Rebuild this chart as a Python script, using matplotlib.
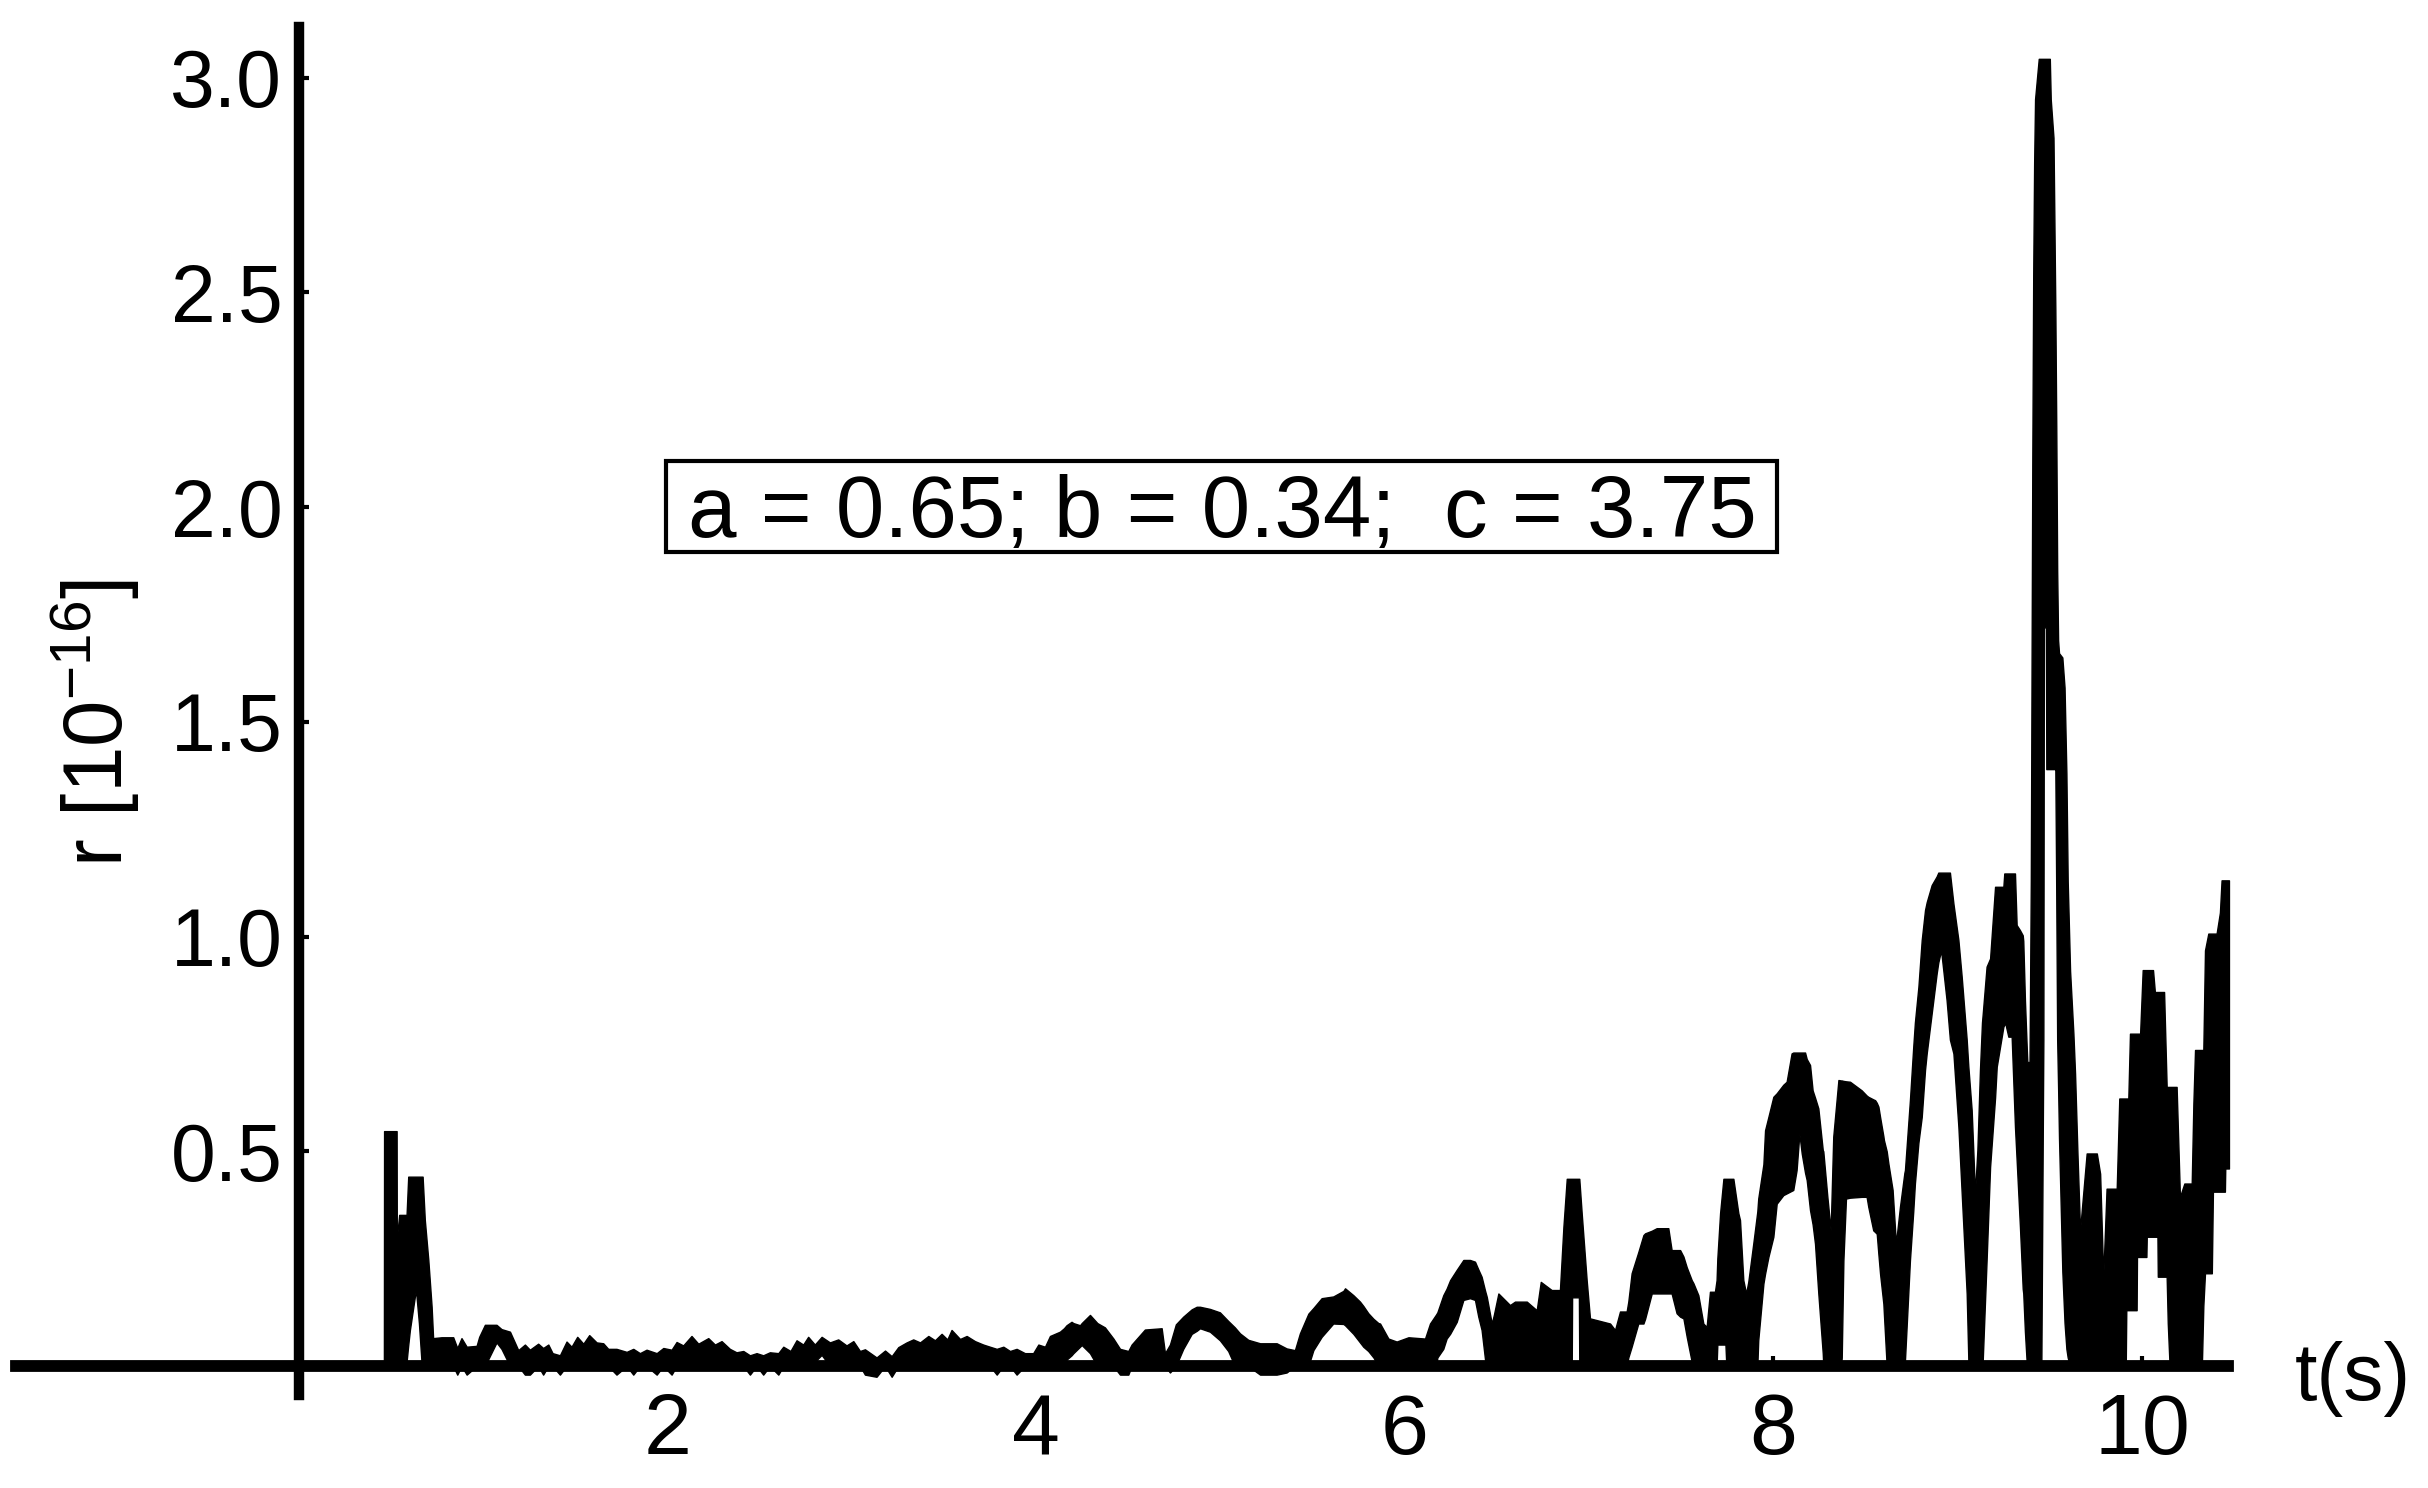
import matplotlib
matplotlib.use('Agg')
import matplotlib.pyplot as plt
from matplotlib.patches import Rectangle
import numpy as np

plt.rcParams['font.family'] = ['Liberation Sans', 'DejaVu Sans']
plt.rcParams['mathtext.fontset'] = 'custom'
plt.rcParams['mathtext.rm'] = 'Liberation Sans'
plt.rcParams['mathtext.default'] = 'regular'

# 曲线被读成一条黑色带：每个时刻的上沿 up 和下沿 lo (单位 1e-16)
# 起始尖峰
t_spike = [0.461, 0.462, 0.530, 0.531, 0.544, 0.584, 0.593, 0.602, 0.629, 0.635,
           0.651, 0.665, 0.671, 0.683, 0.702, 0.720, 0.728]
up_spike = [0.000, 0.547, 0.547, 0.297, 0.352, 0.352, 0.441, 0.441, 0.441, 0.441,
            0.441, 0.441, 0.441, 0.340, 0.247, 0.138, 0.065]
lo_spike = [0, 0, 0, 0, 0, 0.010, 0.049, 0.084, 0.162, 0.177,
            0.100, 0.010, 0, 0, 0, 0, 0]

# 平静段 (小幅噪声)
t_quiet = [0.774, 0.837, 0.859, 0.882, 0.910, 0.964, 0.978, 1.009, 1.072, 1.099,
           1.145, 1.166, 1.190, 1.226, 1.253, 1.298, 1.325, 1.353, 1.376, 1.416,
           1.452, 1.479, 1.510, 1.543, 1.575, 1.615, 1.651, 1.678, 1.723, 1.778,
           1.814, 1.850, 1.886, 1.941, 1.977, 2.022, 2.049, 2.085, 2.130, 2.167,
           2.221, 2.257, 2.293, 2.338, 2.374, 2.411, 2.447, 2.483, 2.519, 2.555,
           2.601, 2.628, 2.667, 2.700, 2.736, 2.763, 2.799, 2.836, 2.881, 2.926,
           2.971, 3.008, 3.044, 3.071, 3.134, 3.180, 3.216, 3.252, 3.297, 3.333,
           3.370, 3.415, 3.451, 3.487, 3.518, 3.541, 3.587, 3.623, 3.668, 3.713,
           3.749, 3.786, 3.822, 3.858, 3.894, 3.939, 3.984]
up_quiet = [0.067, 0.067, 0.042, 0.065, 0.045, 0.047, 0.068, 0.096, 0.096, 0.086,
            0.080, 0.060, 0.037, 0.050, 0.038, 0.052, 0.042, 0.050, 0.030, 0.025,
            0.057, 0.045, 0.068, 0.052, 0.072, 0.055, 0.053, 0.040, 0.040, 0.033,
            0.040, 0.030, 0.038, 0.030, 0.042, 0.038, 0.056, 0.048, 0.070, 0.052,
            0.065, 0.050, 0.058, 0.040, 0.032, 0.035, 0.025, 0.030, 0.025, 0.032,
            0.030, 0.045, 0.035, 0.060, 0.050, 0.068, 0.050, 0.068, 0.055, 0.062,
            0.048, 0.058, 0.035, 0.039, 0.020, 0.036, 0.023, 0.044, 0.055, 0.062,
            0.055, 0.070, 0.060, 0.075, 0.062, 0.084, 0.063, 0.070, 0.058, 0.050,
            0.045, 0.040, 0.045, 0.035, 0.040, 0.030, 0.030]
lo_quiet = [0, 0, -0.02, 0, -0.02, 0, 0, 0, 0.055, 0.040,
            0, 0, 0, -0.02, -0.02, 0, -0.02, 0, 0, -0.02,
            0, 0, 0, 0, 0, 0, 0, 0, -0.02, 0,
            -0.02, 0, 0, -0.02, 0, -0.02, 0, 0, 0, 0,
            0, 0, 0, 0, 0, 0, -0.02, 0, -0.02, 0,
            -0.02, 0, 0, 0, 0, 0, 0.010, 0.026, 0, 0,
            0, 0, 0, -0.02, -0.025, 0, -0.025, 0, 0, 0,
            0, 0, 0, 0, 0, 0, 0, 0, 0, 0,
            0, -0.02, 0, 0, -0.02, 0, 0]

# 逐渐增大的拱形段
t_arcs = [4.012, 4.048, 4.075, 4.129, 4.151, 4.165, 4.192, 4.202, 4.238, 4.247,
          4.292, 4.332, 4.373, 4.419, 4.455, 4.500, 4.518, 4.590, 4.681, 4.699,
          4.726, 4.758, 4.798, 4.844, 4.871, 4.889, 4.943, 4.997, 5.042, 5.078,
          5.106, 5.151, 5.215, 5.305, 5.359, 5.404, 5.431, 5.477, 5.504, 5.549,
          5.612, 5.667, 5.676, 5.721, 5.757, 5.775, 5.802, 5.830, 5.857, 5.866,
          5.911, 5.956, 6.020, 6.110, 6.137, 6.170, 6.177, 6.209, 6.227, 6.246,
          6.282, 6.318, 6.354, 6.381, 6.399, 6.417, 6.436, 6.445, 6.472, 6.484,
          6.508, 6.571, 6.598, 6.662, 6.716, 6.738, 6.797, 6.842, 6.861, 6.879,
          6.906, 6.908, 6.945, 6.947, 6.960, 6.987, 7.005, 7.114, 7.141, 7.168,
          7.204, 7.213, 7.231, 7.267, 7.295, 7.304, 7.340, 7.367, 7.430, 7.448,
          7.475, 7.494, 7.512, 7.530, 7.557, 7.566, 7.593, 7.620, 7.638, 7.656,
          7.683, 7.692, 7.696, 7.711, 7.729, 7.740, 7.745, 7.783, 7.810]
up_arcs = [0.050, 0.045, 0.070, 0.080, 0.088, 0.095, 0.103, 0.100, 0.095, 0.100,
           0.119, 0.100, 0.090, 0.064, 0.040, 0.035, 0.050, 0.085, 0.088, 0.030,
           0.050, 0.097, 0.115, 0.132, 0.138, 0.138, 0.133, 0.125, 0.105, 0.090,
           0.076, 0.061, 0.053, 0.053, 0.041, 0.037, 0.076, 0.122, 0.135, 0.158,
           0.162, 0.175, 0.181, 0.165, 0.150, 0.140, 0.123, 0.110, 0.100, 0.099,
           0.064, 0.057, 0.067, 0.064, 0.099, 0.120, 0.125, 0.165, 0.180, 0.200,
           0.224, 0.247, 0.247, 0.243, 0.225, 0.208, 0.175, 0.161, 0.099, 0.120,
           0.169, 0.142, 0.150, 0.150, 0.130, 0.196, 0.177, 0.177, 0.325, 0.436,
           0.436, 0.436, 0.436, 0.436, 0.356, 0.200, 0.111, 0.099, 0.084, 0.127,
           0.127, 0.150, 0.216, 0.265, 0.305, 0.309, 0.315, 0.321, 0.321, 0.270,
           0.270, 0.270, 0.255, 0.230, 0.200, 0.193, 0.165, 0.099, 0.091, 0.173,
           0.173, 0.200, 0.250, 0.356, 0.436, 0.436, 0.436, 0.436, 0.356]
lo_arcs = [0, 0, 0, 0, 0, 0.015, 0.025, 0.030, 0.045, 0.049,
           0.030, 0, 0, 0, -0.02, -0.02, 0, 0, 0, 0,
           -0.015, 0, 0.040, 0.075, 0.082, 0.088, 0.080, 0.060, 0.035, 0,
           0, 0, -0.02, -0.02, -0.015, 0, 0, 0, 0.037, 0.068,
           0.099, 0.098, 0.095, 0.075, 0.055, 0.045, 0.035, 0.020, 0, 0,
           0, 0, 0, 0, 0, 0, 0.020, 0.040, 0.064, 0.075,
           0.103, 0.154, 0.158, 0.154, 0.115, 0.084, 0.014, 0, 0, 0,
           0, 0, 0, 0, 0, 0, 0, 0, 0, 0,
           0, 0.160, 0.160, 0, 0, 0, 0, 0, 0, 0,
           0, 0.020, 0.045, 0.099, 0.099, 0.110, 0.169, 0.169, 0.169, 0.169,
           0.123, 0.115, 0.111, 0.068, 0.010, 0, 0, 0, 0, 0,
           0, 0, 0.050, 0.050, 0.050, 0.050, 0, 0, 0]

# 末段剧烈振荡与 9.5 s 处的主峰
t_burst = [7.819, 7.837, 7.852, 7.864, 7.891, 7.913, 7.918, 7.946, 7.955, 7.973,
           8.000, 8.018, 8.054, 8.072, 8.099, 8.108, 8.126, 8.141, 8.154, 8.172,
           8.181, 8.199, 8.213, 8.226, 8.244, 8.268, 8.271, 8.293, 8.311, 8.325,
           8.353, 8.367, 8.371, 8.380, 8.394, 8.416, 8.479, 8.506, 8.515, 8.542,
           8.552, 8.561, 8.570, 8.579, 8.597, 8.600, 8.615, 8.624, 8.647, 8.665,
           8.687, 8.711, 8.714, 8.741, 8.759, 8.768, 8.787, 8.805, 8.823, 8.832,
           8.859, 8.886, 8.895, 8.910, 8.922, 8.940, 8.958, 8.977, 9.004, 9.022,
           9.049, 9.058, 9.076, 9.094, 9.107, 9.121, 9.132, 9.136, 9.157, 9.176,
           9.203, 9.212, 9.248, 9.253, 9.257, 9.275, 9.293, 9.311, 9.320, 9.338,
           9.353, 9.356, 9.365, 9.374, 9.378, 9.390, 9.397, 9.405, 9.410, 9.415,
           9.420, 9.440, 9.454, 9.465, 9.468, 9.479, 9.481, 9.500, 9.505, 9.520,
           9.525, 9.530, 9.535, 9.540, 9.545, 9.550, 9.568, 9.580, 9.590, 9.597,
           9.610, 9.628, 9.637, 9.650, 9.664, 9.700, 9.755, 9.773, 9.790, 9.808,
           9.863, 9.877, 9.912, 9.915, 9.926, 9.935, 9.971, 9.973, 9.990, 10.004,
           10.024, 10.026, 10.060, 10.070, 10.084, 10.086, 10.120, 10.134, 10.140, 10.150,
           10.188, 10.206, 10.230, 10.270, 10.279, 10.288, 10.325, 10.333, 10.342, 10.360,
           10.379, 10.385, 10.405, 10.423, 10.432, 10.450, 10.452, 10.472]
up_burst = [0.340, 0.200, 0.169, 0.196, 0.285, 0.360, 0.390, 0.470, 0.549, 0.580,
            0.627, 0.635, 0.655, 0.662, 0.728, 0.730, 0.730, 0.730, 0.730, 0.730,
            0.715, 0.701, 0.642, 0.625, 0.600, 0.503, 0.500, 0.394, 0.316, 0.534,
            0.666, 0.665, 0.665, 0.664, 0.663, 0.662, 0.642, 0.630, 0.627, 0.621,
            0.619, 0.613, 0.604, 0.580, 0.535, 0.526, 0.500, 0.472, 0.410, 0.285,
            0.371, 0.450, 0.456, 0.619, 0.743, 0.800, 0.883, 0.992, 1.062, 1.080,
            1.120, 1.140, 1.149, 1.149, 1.149, 1.149, 1.149, 1.077, 0.992, 0.906,
            0.760, 0.697, 0.596, 0.402, 0.503, 0.689, 0.800, 0.820, 0.930, 0.949,
            1.116, 1.116, 1.116, 1.147, 1.147, 1.147, 1.147, 1.147, 1.027, 1.015,
            1.003, 0.990, 0.852, 0.750, 0.708, 0.708, 1.130, 2.100, 2.540, 2.800,
            2.950, 3.044, 3.044, 3.044, 3.044, 3.044, 3.044, 3.044, 2.950, 2.860,
            2.660, 2.460, 2.190, 1.850, 1.690, 1.660, 1.650, 1.580, 1.380, 1.130,
            0.920, 0.774, 0.681, 0.495, 0.316, 0.495, 0.495, 0.448, 0.208, 0.413,
            0.413, 0.623, 0.623, 0.623, 0.623, 0.774, 0.774, 0.774, 0.774, 0.922,
            0.922, 0.922, 0.922, 0.871, 0.871, 0.871, 0.871, 0.650, 0.650, 0.650,
            0.650, 0.394, 0.425, 0.425, 0.611, 0.736, 0.736, 0.736, 0.968, 1.007,
            1.007, 1.007, 1.007, 1.056, 1.131, 1.131, 1.131, 1.131]
lo_burst = [0, 0, 0, 0, 0, 0, 0.060, 0.192, 0.215, 0.254,
            0.301, 0.378, 0.398, 0.402, 0.408, 0.410, 0.456, 0.541, 0.495, 0.450,
            0.433, 0.363, 0.330, 0.285, 0.169, 0.030, 0, 0, 0, 0,
            0, 0, 0.020, 0.246, 0.390, 0.392, 0.394, 0.394, 0.371, 0.316,
            0.312, 0.308, 0.260, 0.215, 0.145, 0.120, 0, 0, 0, 0,
            0, 0, 0.013, 0.246, 0.360, 0.425, 0.520, 0.580, 0.690, 0.728,
            0.821, 0.914, 0.940, 0.968, 0.922, 0.852, 0.760, 0.728, 0.557, 0.402,
            0.169, 0.013, 0, 0, 0, 0, 0, 0.013, 0.246, 0.464,
            0.625, 0.697, 0.790, 0.795, 0.801, 0.767, 0.767, 0.557, 0.480, 0.324,
            0.180, 0.169, 0.080, 0.013, 0, 0, 0, 0, 0, 0,
            0, 0, 0, 0.760, 1.720, 1.720, 1.390, 1.390, 1.390, 1.390,
            1.390, 1.390, 1.100, 0.760, 0.650, 0.530, 0.220, 0.100, 0.040, 0.020,
            0, 0, 0, 0, 0, 0, 0, 0, 0, 0,
            0, 0, 0, 0.130, 0.130, 0.130, 0.130, 0.254, 0.254, 0.254,
            0.254, 0.301, 0.301, 0.301, 0.301, 0.208, 0.208, 0.208, 0.100, 0,
            0, 0, 0, 0, 0, 0, 0, 0.140, 0.216, 0.216,
            0.216, 0.406, 0.406, 0.406, 0.406, 0.406, 0.460, 0.460]

t = np.array(t_spike + t_quiet + t_arcs + t_burst)
up = np.array(up_spike + up_quiet + up_arcs + up_burst)
lo = np.array(lo_spike + lo_quiet + lo_arcs + lo_burst)

x_ticks = [2, 4, 6, 8, 10]
y_ticks = [0.5, 1.0, 1.5, 2.0, 2.5, 3.0]
y_tick_labels = ['0.5', '1.0', '1.5', '2.0', '2.5', '3.0']

fig = plt.figure(figsize=(24.28, 14.88), dpi=100)
ax = fig.add_axes([0, 0, 1, 1])
ax.set_xlim(-1.622, 11.552)
ax.set_ylim(-0.284, 3.181)

ax.fill_between(t, lo, up, color='black', linewidth=1.0)

# Mathematica 风格的坐标轴，交于原点
for s in ['top', 'right']:
    ax.spines[s].set_visible(False)
ax.spines['left'].set_position(('data', 0))
ax.spines['bottom'].set_position(('data', 0))
ax.spines['left'].set_bounds(-0.067, 3.117)
ax.spines['bottom'].set_bounds(-1.536, 10.467)
ax.spines['left'].set_linewidth(7.5)
ax.spines['bottom'].set_linewidth(8.5)

ax.set_xticks(x_ticks)
ax.set_xticklabels([str(v) for v in x_ticks])
ax.set_yticks(y_ticks)
ax.set_yticklabels(y_tick_labels)
ax.tick_params(axis='y', direction='in', length=7, width=3, pad=12, labelsize=58)
ax.tick_params(axis='x', direction='in', length=7, width=3, pad=19, labelsize=62)

ax.text(10.83, -0.079, 't(s)', fontsize=58, ha='left', va='baseline')
ax.text(-1.10, 1.497, r'r [10$^{-16}$]', rotation=90, fontsize=60,
        ha='center', va='center')

# 参数框
ax.text(5.01, 1.931, 'a = 0.65; b = 0.34;  c = 3.75', fontsize=62.7,
        ha='center', va='baseline')
ax.add_patch(Rectangle((1.991, 1.896), 8.020 - 1.991, 2.107 - 1.896,
                       fill=False, edgecolor='black', linewidth=3))

fig.savefig('out.png', dpi=100)
